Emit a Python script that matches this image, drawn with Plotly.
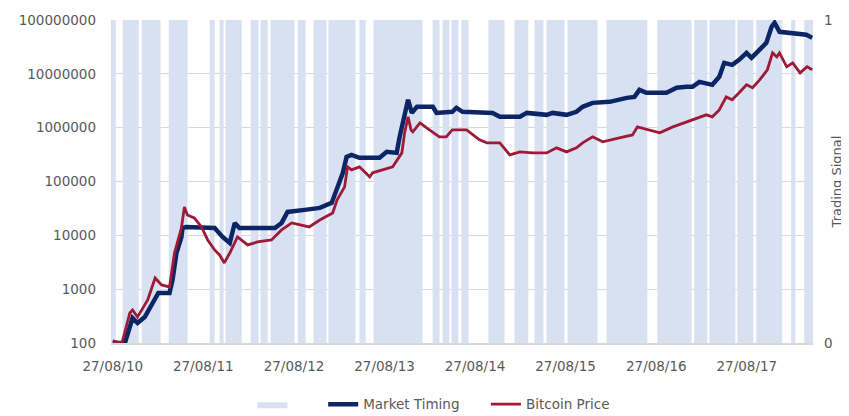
import plotly.graph_objects as go

# ---- data ----
mt_dates = ["2010-08-27","2010-10-15","2010-11-15","2010-12-05","2011-01-03","2011-02-14","2011-02-27",
            "2011-04-13","2011-04-25","2011-05-11","2011-05-31","2011-06-04","2011-06-20","2011-10-12",
            "2011-10-24","2011-11-13","2011-12-12","2012-01-01","2012-01-20","2012-06-11","2012-07-08",
            "2012-08-01","2012-10-09","2012-12-09","2013-01-26","2013-03-12","2013-03-27","2013-04-16",
            "2013-05-18","2013-08-07","2013-09-05","2013-10-15","2013-10-27","2013-11-16","2013-11-30",
            "2013-12-15","2014-01-05","2014-03-10","2014-03-25","2014-05-27","2014-06-13","2014-07-08",
            "2014-11-06","2014-12-05","2015-02-24","2015-03-24","2015-06-12","2015-07-06","2015-08-31",
            "2015-10-10","2015-11-04","2015-12-14","2016-02-21","2016-04-30","2016-05-31","2016-06-20",
            "2016-07-18","2016-10-07","2016-11-17","2016-12-27","2017-01-20","2017-02-17","2017-03-17",
            "2017-04-10","2017-05-08","2017-05-28","2017-06-29","2017-07-27","2017-08-26","2017-09-15",
            "2017-10-05","2017-11-14","2017-12-05","2017-12-17","2018-01-06","2018-02-28","2018-04-24",
            "2018-05-18"]
mt_values = [100,100,292,235,304,630,850,
             850,1480,4700,9340,13700,14300,13700,
             11600,9340,7230,17000,13700,13700,17000,
             27200,29700,32300,40000,145000,286000,312000,
             275000,275000,355000,340000,675000,1730000,3290000,
             1880000,2440000,2440000,1880000,1970000,2330000,1970000,
             1880000,1590000,1590000,1880000,1730000,1880000,1730000,
             1970000,2440000,2890000,3020000,3580000,3730000,5040000,
             4440000,4440000,5500000,5730000,5730000,7100000,6800000,
             6250000,8800000,16000000,14700000,18200000,24500000,19800000,
             24500000,37700000,74800000,88800000,60400000,57800000,53100000,
             46700000]

btc_dates = ["2010-08-27","2010-10-03","2010-11-04","2010-11-15","2010-12-05","2011-01-15","2011-02-14",
             "2011-03-12","2011-04-13","2011-05-03","2011-05-31","2011-06-12","2011-06-24","2011-07-22",
             "2011-08-20","2011-09-14","2011-10-12","2011-11-01","2011-11-20","2011-12-12","2012-01-12",
             "2012-02-10","2012-02-22","2012-04-02","2012-05-28","2012-07-08","2012-08-18","2012-09-21",
             "2012-10-27","2012-12-09","2013-01-30","2013-02-17","2013-03-19","2013-03-31","2013-04-16",
             "2013-05-18","2013-06-28","2013-07-10","2013-09-29","2013-11-05","2013-11-16","2013-11-30",
             "2013-12-12","2013-12-19","2014-01-17","2014-02-13","2014-04-05","2014-05-03","2014-05-27",
             "2014-07-24","2014-09-14","2014-10-14","2014-12-05","2015-01-14","2015-02-24","2015-04-15",
             "2015-06-12","2015-07-22","2015-08-31","2015-10-10","2015-11-04","2015-12-14","2016-01-24",
             "2016-03-31","2016-05-23","2016-06-12","2016-07-31","2016-09-10","2016-11-02","2016-12-27",
             "2017-02-17","2017-03-17","2017-04-10","2017-05-08","2017-06-05","2017-06-29","2017-07-27",
             "2017-08-26","2017-09-19","2017-10-18","2017-11-18","2017-12-09","2017-12-26","2018-01-06",
             "2018-02-04","2018-02-28","2018-03-30","2018-04-27","2018-05-18"]
btc_values = [110,100,361,410,304,630,1615,
              1200,1100,4700,13700,33700,23900,21000,
              14300,8200,5350,4320,3070,4700,9340,
              7530,6630,7530,8200,12600,17000,15600,
              14300,19300,26000,45500,79400,187000,164000,
              187000,122000,145000,187000,340000,800000,1590000,
              910000,836000,1230000,990000,675000,675000,910000,
              910000,593000,521000,521000,312000,355000,340000,
              340000,422000,355000,422000,521000,675000,545000,
              646000,734000,1035000,910000,800000,1035000,1280000,
              1520000,1730000,1590000,2140000,3730000,3290000,4440000,
              6250000,5500000,7730000,11900000,24500000,20700000,24500000,
              13500000,16000000,10400000,13500000,11900000]

# trading signal = 1 between each on/off pair, 0 otherwise
signal_on = ["2010-08-20","2010-10-06","2010-12-22","2011-04-10","2011-09-22","2011-11-01","2011-11-25",
             "2012-03-05","2012-04-14","2012-05-25","2012-09-11","2012-11-14","2013-01-13","2013-05-18",
             "2013-07-14","2014-03-09","2014-04-18","2014-05-24","2014-07-03","2014-10-20","2015-02-02",
             "2015-04-24","2015-06-11","2015-09-04","2016-02-08","2016-08-31","2017-01-27","2017-03-29",
             "2017-07-20","2017-10-04","2018-02-22","2018-04-16"]
signal_off = ["2010-09-08","2010-12-10","2011-03-08","2011-06-25","2011-10-12","2011-11-17","2012-01-29",
              "2012-04-06","2012-05-13","2012-08-29","2012-10-13","2013-01-05","2013-05-02","2013-06-12",
              "2014-01-27","2014-04-06","2014-05-16","2014-06-21","2014-08-01","2014-12-24","2015-03-30",
              "2015-05-30","2015-08-23","2016-01-03","2016-07-22","2017-01-16","2017-03-21","2017-07-12",
              "2017-09-22","2018-01-17","2018-03-11","2018-05-21"]

tick_dates = ["2010-08-27","2011-08-27","2012-08-27","2013-08-27","2014-08-27","2015-08-27","2016-08-27","2017-08-27"]
tick_text = ["27/08/10","27/08/11","27/08/12","27/08/13","27/08/14","27/08/15","27/08/16","27/08/17"]
y_ticks = [100, 1000, 10000, 100000, 1000000, 10000000, 100000000]
y_text = ["100","1000","10000","100000","1000000","10000000","100000000"]

# build step series for the signal
sig_x, sig_y = [], []
for a, b in zip(signal_on, signal_off):
    sig_x += [a, b]
    sig_y += [1, 0]

NAVY = "#0B2565"
RED = "#9E1A36"
SHADE = "#D8E1F1"
GRID = "#D9D9D9"
TXT = "#595959"
FONT = "DejaVu Sans"

fig = go.Figure()
# signal on the base (right-hand, linear) axis so the lines on the overlay axis sit above it
fig.add_trace(go.Scatter(x=sig_x, y=sig_y, yaxis="y", mode="lines", line=dict(shape="hv", width=0),
                         fill="tozeroy", fillcolor=SHADE, name="      ", hoverinfo="skip"))
fig.add_trace(go.Scatter(x=mt_dates, y=mt_values, yaxis="y2", mode="lines", name="Market Timing     ",
                         line=dict(color=NAVY, width=4.5)))
fig.add_trace(go.Scatter(x=btc_dates, y=btc_values, yaxis="y2", mode="lines", name="Bitcoin Price",
                         line=dict(color=RED, width=2.8)))

# page body has an 8px margin: figure is 8px smaller and margins shifted accordingly
fig.update_layout(
    width=841, height=408,
    margin=dict(l=103, r=36, t=12, b=73, autoexpand=False),
    paper_bgcolor="white", plot_bgcolor="white",
    font=dict(family=FONT, size=13, color=TXT),
    showlegend=True,
    legend=dict(orientation="h", x=0.46, xanchor="center", y=-0.19, yanchor="middle",
                font=dict(size=13.5, color=TXT), traceorder="normal"),
    xaxis=dict(type="date", range=["2010-08-20", "2018-05-21"], tickvals=tick_dates, ticktext=tick_text,
               showgrid=False, showline=True, linecolor=GRID, linewidth=2, ticks="", ticklabelstandoff=10,
               zeroline=False, tickfont=dict(size=13.5)),
    yaxis=dict(side="right", range=[0, 1], tickvals=[0, 1], ticktext=["0", "1"],
               showgrid=False, zeroline=False, ticks="", ticklabelstandoff=10, tickfont=dict(size=13.5),
               title=dict(text="Trading Signal", font=dict(size=13, color=TXT), standoff=0)),
    yaxis2=dict(overlaying="y", side="left", type="log", range=[2, 8], tickvals=y_ticks, ticktext=y_text,
                showgrid=True, gridcolor=GRID, gridwidth=1, zeroline=False, ticks="", ticklabelstandoff=14,
                tickfont=dict(size=13.5)),
)
fig.write_html("out.html")
